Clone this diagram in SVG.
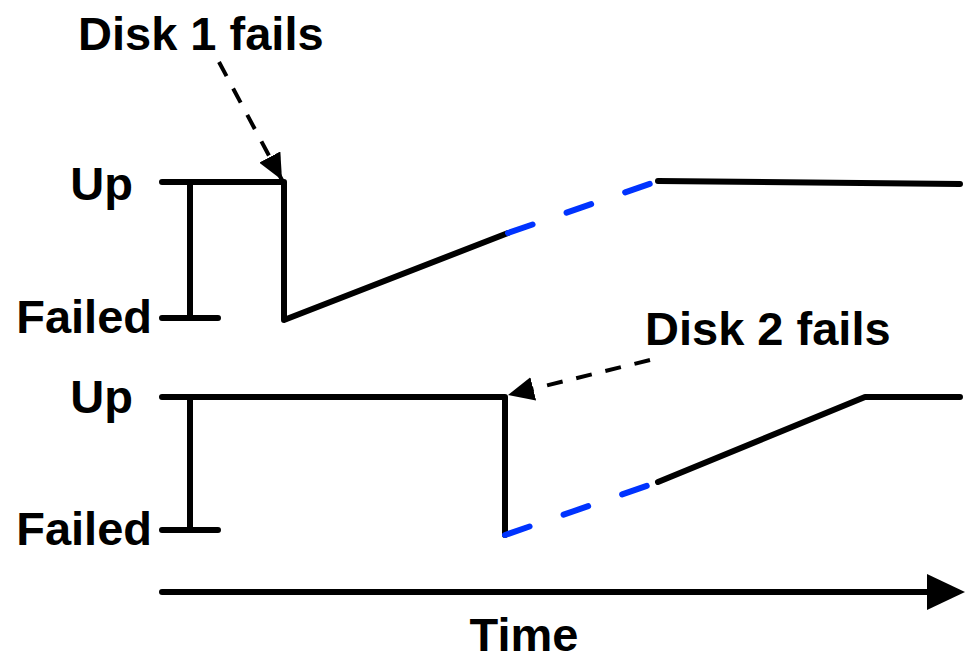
<svg xmlns="http://www.w3.org/2000/svg" width="965" height="661" viewBox="0 0 965 661">
<style>
text{font-family:"Liberation Sans",Arial,sans-serif;font-weight:bold;font-size:47px;fill:#000}
.s{fill:none;stroke:#000;stroke-width:6;stroke-linecap:round;stroke-linejoin:round}
.b{fill:none;stroke:#0033ff;stroke-width:6;stroke-linecap:round;stroke-dasharray:26 36}
.d{fill:none;stroke:#000;stroke-width:4;stroke-dasharray:16 14}
</style>
<defs>
<marker id="ah" markerUnits="userSpaceOnUse" markerWidth="28" markerHeight="24" refX="26" refY="12" orient="auto">
<path d="M0,0 L26,12 L0,24 z" fill="#000"/>
</marker>
</defs>
<g id="labels">
<text x="78" y="50">Disk 1 fails</text>
<text x="645" y="345">Disk 2 fails</text>
<text x="133" y="200" text-anchor="end">Up</text>
<text x="152" y="333" text-anchor="end">Failed</text>
<text x="133" y="413" text-anchor="end">Up</text>
<text x="152" y="545" text-anchor="end">Failed</text>
<text x="524" y="651" text-anchor="middle">Time</text>
</g>
<g id="disk1">
<path class="s" d="M162,182 H284 V320 L508,233"/>
<path class="s" d="M190,182 V318 M162,318 H218"/>
<path class="b" d="M508,233 L658,181"/>
<path class="s" d="M658,181 L960,184"/>
</g>
<g id="disk2">
<path class="s" d="M162,397 H505 V535"/>
<path class="s" d="M190,397 V530 M162,530 H218"/>
<path class="b" d="M505,535 L658,482"/>
<path class="s" d="M658,482 L865,397 H960"/>
</g>
<g id="connectors">
<path class="d" d="M219,62 L282,180" marker-end="url(#ah)"/>
<path class="d" d="M650,360 L508,395" marker-end="url(#ah)"/>
<path class="s" d="M162,592 H930"/>
<path d="M927,574 L965,592 L927,610 z" fill="#000"/>
</g>
</svg>
